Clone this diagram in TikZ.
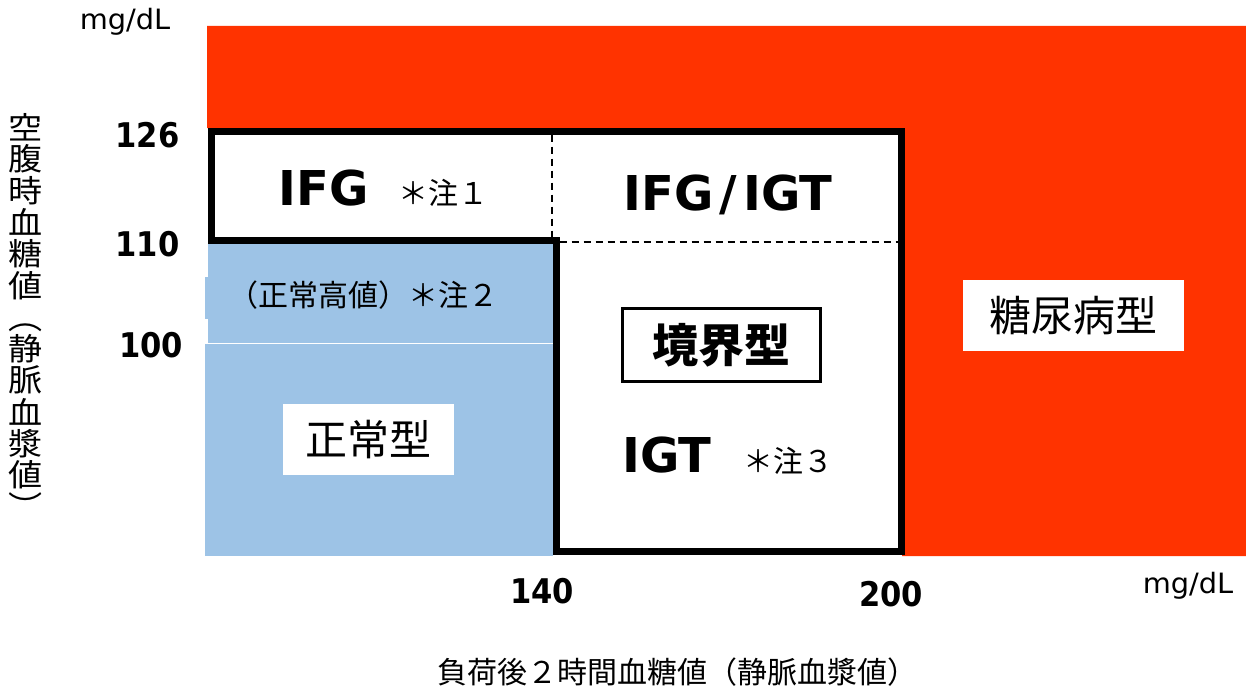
\documentclass[tikz,border=0pt]{standalone}
\usepackage{fontspec}
\setmainfont{DejaVu Sans}
\newfontfamily\cjk{Noto Sans CJK JP}
\newfontfamily\cond{DejaVu Sans Condensed}
\definecolor{dmred}{HTML}{FF3300}
\definecolor{okblue}{HTML}{9DC3E6}
\begin{document}
\begin{tikzpicture}[x=1pt,y=-1pt,
  every node/.style={inner sep=0pt,outer sep=0pt},
  ticklbl/.style={font=\cond\bfseries\fontsize{34}{40}\selectfont},
  unitlbl/.style={font=\fontsize{28}{32}\selectfont},
  biglbl/.style={font=\bfseries\fontsize{48}{56}\selectfont,anchor=base},
  notelbl/.style={font=\cjk\fontsize{30}{36}\selectfont},
  cjkbox/.style={font=\cjk\fontsize{42}{50}\selectfont,fill=white,minimum width=171pt,minimum height=71pt},
  vchar/.style={font=\cjk\fontsize{31}{36}\selectfont},
  outline/.style={line width=7pt,line join=miter},
  divider/.style={line width=1.5pt,dash pattern=on 7pt off 5pt}]
\useasboundingbox (0,0) rectangle (1246,693);
% regions
\fill[dmred] (207,26) -- (1246,26) -- (1246,556) -- (902,556) -- (902,128) -- (207,128) -- cycle;
\fill[okblue] (208,243) rectangle (553,343);
\fill[okblue] (205,277) rectangle (553,319);
\fill[okblue] (205,344) rectangle (553,556);
\draw[white,line width=1pt] (206,343.5) -- (553,343.5);
\filldraw[fill=white,draw=black,outline] (211.5,131) -- (901.5,131) -- (901.5,551.5) -- (556,551.5) -- (556,240) -- (211.5,240) -- cycle;
% dividers
\coordinate (dvt) at (552,134.5);
\coordinate (dvb) at (552,236.5);
\coordinate (dhl) at (559.5,242);
\coordinate (dhr) at (898,242);
\draw[divider] (dvt) -- (dvb);
\draw[divider] (dhl) -- (dhr);
% axis units
\node[unitlbl] (ytop) at (125,22) {\scalebox{1.03}[1]{mg/dL}};
\node[unitlbl] (xunit) at (1188,586) {\scalebox{1.03}[1]{mg/dL}};
% ticks
\node[ticklbl] (t126) at (147.5,135.5) {126};
\node[ticklbl] (t110) at (147.5,244.5) {110};
\node[ticklbl] (t100) at (151,345.5) {100};
\node[ticklbl] (t140) at (542,591.5) {140};
\node[ticklbl] (t200) at (891,594) {200};
% region labels
\node[biglbl] (ifg) at (324,205) {IFG};
\node[notelbl] (n1) at (443,193) {＊注１};
\node[biglbl] (ifgigt) at (728,210) {IFG\kern6pt/\kern6pt IGT};
\node[biglbl] (igt) at (667,472) {IGT};
\node[notelbl] (n3) at (788,461) {＊注３};
\node[notelbl] (n2) at (363,295) {（正常高値）＊注２};
\node[cjkbox] (normal) at (368.5,439.5) {正常型};
\node[cjkbox,minimum width=221pt] (dm) at (1073.5,315.5) {糖尿病型};
\node[draw=black,line width=3pt,fill=white,minimum width=198pt,minimum height=73pt,font=\cjk\bfseries\fontsize{46}{54}\selectfont] (border) at (721.5,345) {境界型};
% x axis title
\node[notelbl] (xtitle) at (677,672) {負荷後２時間血糖値（静脈血漿値）};
% y axis title (vertical)
\foreach \c/\yy [count=\i] in {空/127.5,腹/159.1,時/190.7,血/222.3,糖/253.9,値/285.5,︵/328,静/348.7,脈/380.3,血/411.9,漿/443.5,値/475.1,︶/506}
  \node[vchar] (v\i) at (26,\yy) {\scalebox{1.1}[1]{\c}};
\end{tikzpicture}
\end{document}
